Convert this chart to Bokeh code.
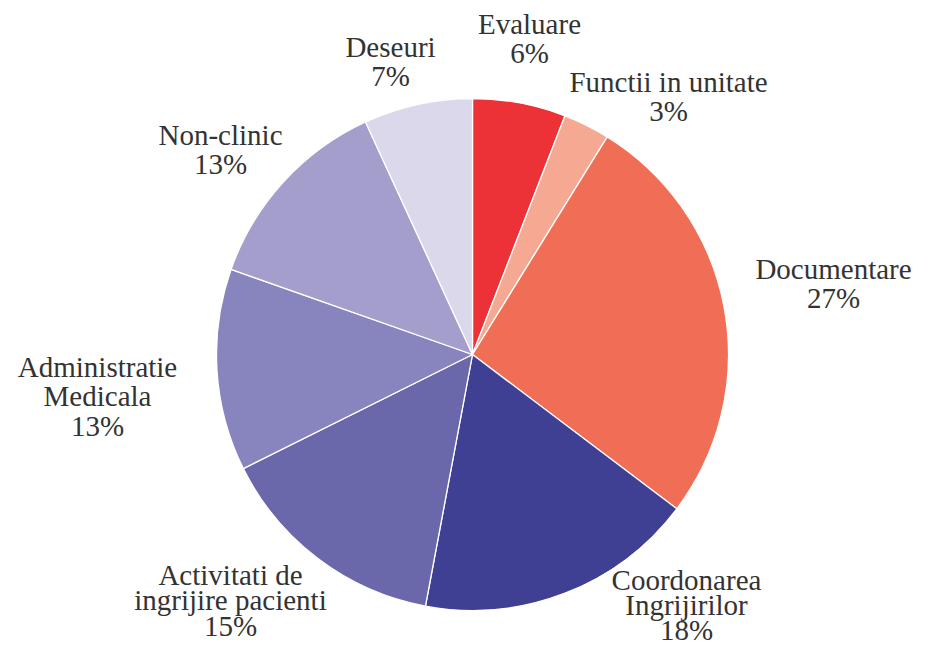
import math
from bokeh.plotting import figure
from bokeh.models import ColumnDataSource
from bokeh.core.properties import value
from bokeh.embed import file_html
from bokeh.resources import INLINE

# ---- data ----
categories = ["Evaluare", "Functii in unitate", "Documentare", "Coordonarea\nIngrijirilor",
              "Activitati de\ningrijire pacienti", "Administratie\nMedicala", "Non-clinic", "Deseuri"]
percent = [6, 3, 27, 18, 15, 13, 13, 7]
colors = ["#EC3237", "#F5A992", "#F06E55", "#3F3F94", "#6A67AB", "#8884BE", "#A39ECB", "#DAD8EA"]

# ---- layout (pixels, page coordinates from top-left) ----
W, H = 915, 644
CX, CY, R = 472, 354, 256
BASE_FIX = 11  # svg text renders lower than requested baseline
# label anchor: centre x, baseline y of first line, line spacing (page px)
label_anchor = [(529, 34, 29.5), (668, 92, 29.5), (833, 279, 29.5), (686, 590, 25),
                (230, 585, 25.5), (97, 377, 29.5), (220, 145, 29.5), (390, 57, 29.5)]

def py(y):
    return H - y

total = sum(percent)
starts, ends = [], []
cum = 0.0
for v in percent:
    a0 = math.pi / 2 - 2 * math.pi * cum / total
    cum += v
    a1 = math.pi / 2 - 2 * math.pi * cum / total
    starts.append(a0)
    ends.append(a1)

src = ColumnDataSource(dict(cat=categories, val=percent, color=colors, start=starts, end=ends,
                            x=[CX] * len(percent), y=[py(CY)] * len(percent)))

p = figure(width=W, height=H, x_range=(0, W), y_range=(0, H), output_backend="svg",
           toolbar_location=None, min_border=0, outline_line_color=None)
p.axis.visible = False
p.grid.visible = False
p.background_fill_color = "white"

p.wedge(x="x", y="y", radius=R, radius_units="screen", start_angle="start", end_angle="end",
        direction="clock", fill_color="color", line_color="white", line_width=1.3, source=src)

tx, ty, tt = [], [], []
for cat, v, (ax, ay, lh) in zip(categories, percent, label_anchor):
    lines = cat.split("\n") + [f"{v}%"]
    for i, ln in enumerate(lines):
        tx.append(ax)
        ty.append(py(ay + i * lh - BASE_FIX))
        tt.append(ln)

p.text(x=tx, y=ty, text=tt, text_align="center", text_baseline="alphabetic",
       text_font=value("Liberation Serif"), text_font_size="29px", text_color="#333333")

open("out.html", "w").write(file_html(p, INLINE))
